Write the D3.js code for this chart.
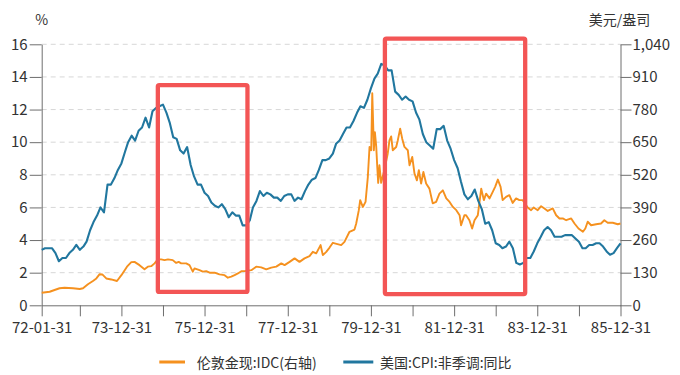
<!DOCTYPE html>
<html><head><meta charset="utf-8">
<script src="https://cdn.jsdelivr.net/npm/d3@7"></script>
<style>
html,body{margin:0;padding:0;background:#fff;}
text{font-family:"Noto Sans CJK SC","Noto Sans",sans-serif;}
</style></head>
<body>
<svg id="chart" width="680" height="375"></svg>
<script>
// ---------- data ----------
const cpiStartMonth = "1972-01";
const cpiValues = [
 3.4,3.5,3.5,3.5,3.2,2.7,2.9,2.9,3.2,3.4,3.7,3.4,
 3.6,3.9,4.6,5.1,5.5,6.0,5.7,7.4,7.4,7.8,8.3,8.7,
 9.4,10.0,10.4,10.1,10.7,10.9,11.5,10.9,11.9,12.1,12.2,12.3,
 11.8,11.2,10.3,10.2,9.5,9.3,9.7,8.6,7.9,7.4,7.4,6.9,
 6.7,6.3,6.1,6.0,6.2,5.9,5.4,5.7,5.5,5.5,4.9,4.9,
 5.2,6.0,6.4,7.0,6.7,6.9,6.8,6.6,6.6,6.4,6.7,6.8,
 6.8,6.4,6.6,6.5,7.0,7.4,7.7,7.8,8.3,8.9,8.9,9.0,
 9.3,9.9,10.1,10.5,10.9,10.9,11.3,11.8,12.2,12.1,12.6,13.3,
 13.9,14.2,14.8,14.7,14.4,14.4,13.1,12.9,12.6,12.8,12.6,12.5,
 11.8,11.4,10.5,10.0,9.8,9.6,10.8,10.8,11.0,10.1,9.6,8.9,
 8.4,7.6,6.8,6.5,6.7,7.1,6.4,5.9,5.0,5.1,4.6,3.8,
 3.7,3.5,3.6,3.9,3.5,2.6,2.5,2.6,2.9,2.9,3.3,3.8,
 4.2,4.6,4.8,4.6,4.2,4.2,4.2,4.3,4.3,4.3,4.1,3.9,
 3.5,3.5,3.7,3.7,3.8,3.8,3.6,3.3,3.1,3.2,3.5,3.8
];
const goldDates = [
 "1972-01-31","1972-04-10","1972-05-23","1972-07-06","1972-08-19","1972-11-01","1972-12-30",
 "1973-01-28","1973-03-12","1973-04-25","1973-05-25","1973-06-23","1973-07-16","1973-08-20","1973-10-03","1973-11-22","1973-12-31",
 "1974-02-18","1974-03-28","1974-04-25","1974-06-08","1974-07-22","1974-08-20","1974-09-19","1974-10-18","1974-11-16","1974-12-15",
 "1975-01-14","1975-02-13","1975-03-27","1975-04-26","1975-05-18","1975-06-09","1975-07-23","1975-08-21","1975-09-19","1975-10-04","1975-11-17","1975-12-16",
 "1976-01-15","1976-02-14","1976-03-28","1976-05-10","1976-06-24","1976-07-23","1976-08-22","1976-09-20","1976-10-19","1976-11-18","1976-12-17",
 "1977-02-14","1977-03-29","1977-05-12","1977-06-25","1977-08-08","1977-09-21","1977-11-04","1977-12-03",
 "1978-01-16","1978-03-01","1978-04-13","1978-05-27","1978-07-10","1978-08-08","1978-09-07","1978-10-15","1978-11-04","1978-12-04",
 "1979-01-02","1979-01-31","1979-04-14","1979-05-13","1979-06-26","1979-08-09","1979-08-24","1979-09-16","1979-09-28","1979-10-21","1979-11-14","1979-12-04","1979-12-19",
 "1980-01-03","1980-01-12","1980-01-21","1980-01-26","1980-02-04","1980-02-16","1980-02-25","1980-03-04","1980-03-15","1980-03-30","1980-04-28","1980-05-27","1980-06-11","1980-06-26","1980-07-10","1980-08-09","1980-08-23","1980-09-13","1980-10-01","1980-10-21","1980-11-19","1980-12-04","1980-12-28",
 "1981-01-17","1981-02-07","1981-02-24","1981-03-16","1981-04-05","1981-04-29","1981-05-28","1981-06-26","1981-07-26","1981-08-24","1981-09-23","1981-10-23","1981-11-21","1981-12-20",
 "1982-01-19","1982-02-17","1982-03-02","1982-03-31","1982-04-15","1982-05-14","1982-06-07","1982-06-28","1982-07-27","1982-08-26","1982-09-18","1982-10-08","1982-11-07","1982-12-05","1982-12-26",
 "1983-01-19","1983-02-12","1983-03-02","1983-04-01","1983-04-30","1983-05-29","1983-06-28","1983-07-27","1983-08-25","1983-10-08","1983-11-07","1983-11-30",
 "1984-01-04","1984-02-03","1984-03-03","1984-04-01","1984-05-15","1984-06-14","1984-07-13","1984-08-11","1984-09-10","1984-10-24","1984-11-22","1984-12-27",
 "1985-02-04","1985-02-25","1985-03-18","1985-04-17","1985-05-31","1985-07-13","1985-08-11","1985-09-10","1985-10-24","1985-12-07","1985-12-31"
];
const goldValues = [
 50,54,61,68,70,68,65,
 68,84,97,107,124,123,107,103,97,120,
 154,172,173,160,144,154,156,167,183,183,
 180,183,180,169,173,167,167,160,134,147,140,134,
 136,130,130,123,120,110,114,120,127,136,136,
 140,154,151,143,150,154,167,160,
 173,187,173,187,196,213,207,240,200,213,
 230,249,240,253,293,302,326,379,419,392,412,511,631,
 618,845,705,618,690,631,551,488,558,488,540,605,657,673,618,631,657,704,664,631,618,558,591,
 525,498,538,485,531,485,465,406,412,445,458,426,412,392,
 379,359,319,359,359,339,306,339,359,465,419,445,426,452,472,
 501,472,419,432,439,408,426,419,419,390,379,390,
 379,395,386,376,386,359,346,346,339,346,326,306,
 293,306,333,319,323,326,339,329,329,323,326
];
const xTickDates = ["1972-01-31","1972-12-31","1973-12-31","1974-12-31","1975-12-31","1976-12-31","1977-12-31",
 "1978-12-31","1979-12-31","1980-12-31","1981-12-31","1982-12-31","1983-12-31","1984-12-31","1985-12-31"];
const leftTicks = [0,2,4,6,8,10,12,14,16];
const rightTicks = [0,130,260,390,520,650,780,910,1040];
const seriesNames = ["伦敦金现:IDC(右轴)","美国:CPI:非季调:同比"];
const leftUnit = "%";
const rightUnit = "美元/盎司";
// highlight boxes (in data units: dates and left-axis %)
const boxStart = ["1974-11-16","1980-05-02"];
const boxEnd = ["1977-01-11","1983-09-16"];
const boxTop = [13.5,16.35];
const boxBottom = [0.82,0.69];

// ---------- chart ----------
const parse = d3.timeParse("%Y-%m-%d");
const fmt = d3.timeFormat("%y-%m-%d");
const svg = d3.select("#chart");
const X0 = 41.7, X1 = 620.5, Y0 = 305.3, Y1 = 44.3;
const x = d3.scaleTime().domain([parse(xTickDates[0]), parse(xTickDates[xTickDates.length-1])]).range([X0, X1]);
const yL = d3.scaleLinear().domain([0,16]).range([Y0, Y1]);
const yR = d3.scaleLinear().domain([0,1040]).range([Y0, Y1]);

const cpiStart = d3.timeParse("%Y-%m")(cpiStartMonth);
const cpiData = cpiValues.map((v,i)=>({d: new Date(cpiStart.getFullYear(), cpiStart.getMonth()+i+1, 0), v}));
const goldData = goldDates.map((s,i)=>({d: parse(s), v: goldValues[i]}));

const orange = "#f5911f", blue = "#21779f", axisCol = "#6e6e6e", textCol = "#333";

// grid
svg.append("g").selectAll("line").data(leftTicks.filter(t=>t>0)).join("line")
  .attr("x1", X0).attr("x2", X1).attr("y1", d=>yL(d)).attr("y2", d=>yL(d))
  .attr("stroke", "#d8d8d8").attr("stroke-width",1).attr("stroke-dasharray","5,4");

function styleAxis(g, size){
  g.select(".domain").attr("stroke", axisCol);
  g.selectAll(".tick line").attr("stroke", axisCol);
  g.selectAll(".tick text").attr("fill", textCol).style("font-size", size+"px")
   .style("font-family",'"Noto Sans CJK SC","Noto Sans",sans-serif');
}
const gl = svg.append("g").attr("transform",`translate(${X0},0)`)
  .call(d3.axisLeft(yL).tickValues(leftTicks).tickSize(12).tickSizeOuter(0).tickPadding(2));
styleAxis(gl, 15);
const gr = svg.append("g").attr("transform",`translate(${X1},0)`)
  .call(d3.axisRight(yR).tickValues(rightTicks).tickSize(11).tickSizeOuter(0).tickPadding(1).tickFormat(d3.format(",")));
styleAxis(gr, 15);
const gx = svg.append("g").attr("transform",`translate(0,${Y0})`)
  .call(d3.axisBottom(x).tickValues(xTickDates.map(parse)).tickSize(11).tickSizeOuter(0).tickPadding(6)
    .tickFormat((d,i)=> i%2===0 ? fmt(d) : ""));
styleAxis(gx, 15);

// lines
svg.append("path").datum(goldData)
  .attr("fill","none").attr("stroke",orange).attr("stroke-width",1.9).attr("stroke-linejoin","round")
  .attr("d", d3.line().x(d=>x(d.d)).y(d=>yR(d.v)));
svg.append("path").datum(cpiData)
  .attr("fill","none").attr("stroke",blue).attr("stroke-width",2.1).attr("stroke-linejoin","round")
  .attr("d", d3.line().x(d=>x(d.d)).y(d=>yL(d.v)));

// highlight boxes
svg.append("g").selectAll("rect").data(boxStart.map((s,i)=>i)).join("rect")
  .attr("x", i=>x(parse(boxStart[i])))
  .attr("y", i=>yL(boxTop[i]))
  .attr("width", i=>x(parse(boxEnd[i]))-x(parse(boxStart[i])))
  .attr("height", i=>yL(boxBottom[i])-yL(boxTop[i]))
  .attr("rx",1.5)
  .attr("fill","none").attr("stroke","#f35555").attr("stroke-width",4.3);

// unit labels
svg.append("text").attr("x",X0).attr("y",19).attr("text-anchor","middle").attr("dominant-baseline","central")
  .attr("fill",textCol).style("font-size","14px").text(leftUnit);
svg.append("text").attr("x",619.5).attr("y",18.5).attr("text-anchor","middle").attr("dominant-baseline","central")
  .attr("fill",textCol).style("font-size","14px").text(rightUnit);

// legend
const legendColors = [orange, blue];
const legendX = [159.3, 343.3];
const lg = svg.append("g").selectAll("g").data(seriesNames).join("g")
  .attr("transform",(d,i)=>`translate(${legendX[i]},362)`);
lg.append("line").attr("x1",0).attr("x2",(d,i)=> i===0?25.7:30).attr("y1",0).attr("y2",0)
  .attr("stroke",(d,i)=>legendColors[i]).attr("stroke-width",3);
lg.append("text").attr("x",(d,i)=> i===0?37.4:36.7).attr("y",0).attr("dominant-baseline","central")
  .attr("fill",textCol).style("font-size","14px").text(d=>d);
</script>
</body></html>
